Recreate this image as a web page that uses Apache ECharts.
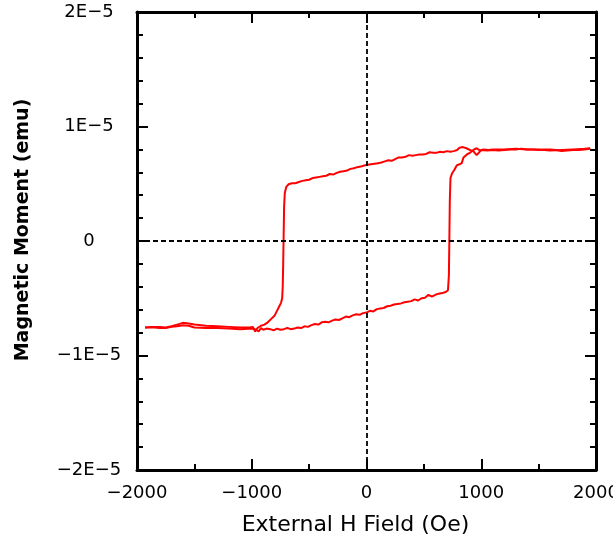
<!DOCTYPE html>
<html>
<head>
<meta charset="utf-8">
<script src="https://cdn.jsdelivr.net/npm/echarts@6/dist/echarts.min.js"></script>
<style>
  html, body { margin: 0; padding: 0; background: #fff; }
  #main { width: 613px; height: 540px; }
</style>
</head>
<body>
<div id="main"></div>
<script>
// H in Oe, M in units of 1E-6 emu
var hDown = [1950, 1900, 1850, 1800, 1750, 1700, 1650, 1600, 1550, 1500, 1450, 1400, 1350, 1300, 1250, 1200, 1150, 1100, 1050, 1000,
  960, 930, 900, 870, 840, 810, 790, 760, 730, 700, 670, 640, 610, 580, 550, 520, 490, 460, 430, 400, 370, 340, 310, 280, 250,
  220, 190, 160, 130, 100, 70, 40, 10, -20, -50, -80, -110, -140, -170, -200, -230, -260, -290, -320, -350, -380, -410, -440,
  -470, -500, -530, -560, -590, -620, -650, -680, -700, -712, -718, -722, -726, -730, -735, -745, -760, -780, -800, -830, -860,
  -890, -920, -950, -970, -990, -1020, -1100, -1200, -1300, -1400, -1500, -1550, -1600, -1650, -1700, -1750, -1800, -1870, -1930];
var mDown = [8.05, 8.0, 7.95, 7.95, 7.9, 7.85, 7.95, 8.0, 8.0, 7.95, 8.0, 8.0, 8.05, 8.0, 8.0, 7.95, 7.9, 7.95, 7.9, 7.95,
  7.5, 7.85, 7.95, 8.1, 8.2, 8.15, 7.95, 7.85, 7.8, 7.85, 7.75, 7.8, 7.7, 7.7, 7.75, 7.6, 7.55, 7.55, 7.5, 7.45, 7.5, 7.35, 7.3, 7.3, 7.15,
  7.0, 7.05, 6.95, 6.85, 6.8, 6.75, 6.7, 6.65, 6.6, 6.5, 6.45, 6.35, 6.3, 6.15, 6.1, 6.05, 5.95, 5.8, 5.85, 5.7, 5.65, 5.6, 5.55,
  5.5, 5.35, 5.3, 5.25, 5.15, 5.05, 5.05, 4.95, 4.7, 4.2, 3.0, 0.5, -2.0, -4.0, -5.0, -5.4, -5.7, -6.1, -6.5, -6.8, -7.1,
  -7.3, -7.4, -7.6, -7.9, -7.5, -7.55, -7.55, -7.5, -7.45, -7.4, -7.3, -7.2, -7.15, -7.3, -7.45, -7.55, -7.5, -7.5, -7.55];

var hUp = [-1930, -1850, -1800, -1750, -1700, -1650, -1600, -1550, -1500, -1400, -1300, -1200, -1100, -1000, -960, -940, -920,
  -900, -870, -840, -810, -780, -750, -720, -690, -660, -630, -600, -570, -540, -510, -480, -450, -420, -390, -360, -330, -300,
  -270, -240, -210, -180, -150, -120, -90, -60, -30, 0, 30, 60, 90, 120, 150, 180, 210, 240, 270, 300, 330, 360, 390, 420, 450,
  480, 510, 540, 570, 600, 630, 660, 690, 710, 718, 722, 726, 732, 745, 765, 786, 810, 830, 845, 858, 880, 902, 931, 960, 990,
  1020, 1060, 1100, 1200, 1300, 1400, 1500, 1600, 1700, 1800, 1900, 1950];
var mUp = [-7.55, -7.55, -7.6, -7.6, -7.5, -7.45, -7.35, -7.4, -7.55, -7.6, -7.6, -7.65, -7.7, -7.65, -7.75, -7.9, -7.6,
  -7.75, -7.65, -7.7, -7.8, -7.65, -7.75, -7.7, -7.6, -7.7, -7.65, -7.55, -7.6, -7.45, -7.5, -7.35, -7.25, -7.3, -7.1, -7.05, -7.1, -6.95,
  -6.85, -6.9, -6.75, -6.6, -6.65, -6.5, -6.4, -6.45, -6.3, -6.25, -6.1, -6.15, -5.95, -5.9, -5.85, -5.7, -5.65, -5.55, -5.5, -5.45, -5.35, -5.3, -5.25, -5.1, -5.2,
  -5.0, -4.95, -4.7, -4.85, -4.7, -4.6, -4.55, -4.45, -4.3, -3.0, 0, 3.5, 5.5, 5.9, 6.2, 6.6, 6.7, 6.8, 7.3, 7.4, 7.6, 7.7, 7.95, 8.1, 7.9,
  8.0, 7.95, 8.0, 8.0, 8.05, 8.0, 8.0, 7.9, 7.95, 8.0, 8.05, 8.1];

var xTicks = [-2000, -1000, 0, 1000, 2000];
var xTickText = ['\u22122000', '\u22121000', '0', '1000', '2000'];
var yTicks = [-20, -10, 0, 10, 20];
var yTickText = ['\u22122E\u22125', '\u22121E\u22125', '0', '1E\u22125', '2E\u22125'];

function pairs(h, m) {
  return h.map(function (v, i) { return [v, m[i]]; });
}
function pick(ticks, text) {
  return function (v) {
    for (var i = 0; i < ticks.length; i++) {
      if (Math.abs(ticks[i] - v) < 1e-6) return text[i];
    }
    return '';
  };
}

var font = '"DejaVu Sans", sans-serif';
var axisLine = { show: true, onZero: false, lineStyle: { color: '#000', width: 3 } };
var tick = { show: true, inside: true, length: 11, lineStyle: { color: '#000', width: 2 } };
var minor = { show: true, length: 6, lineStyle: { color: '#000', width: 2 } };

var myChart = echarts.init(document.getElementById('main'));
myChart.setOption({
  animation: false,
  backgroundColor: '#fff',
  grid: { left: 137, right: 17, top: 12, bottom: 70, containLabel: false, outerBoundsMode: 'none' },
  xAxis: [{
    type: 'value', min: -2000, max: 2000, interval: 1000, position: 'bottom',
    axisLine: axisLine, axisTick: tick,
    minorTick: Object.assign({ splitNumber: 2 }, minor),
    splitLine: { show: false },
    axisLabel: { formatter: pick(xTicks, xTickText), fontSize: 18, color: '#000', fontFamily: font, margin: 14 },
    name: 'External H Field (Oe)', nameLocation: 'middle', nameGap: 44,
    nameTextStyle: { fontSize: 22, color: '#000', fontFamily: font, padding: [0, 22, 0, 0] }
  }, {
    type: 'value', min: -2000, max: 2000, interval: 1000, position: 'top',
    axisLine: axisLine, axisTick: tick,
    minorTick: Object.assign({ splitNumber: 2 }, minor),
    splitLine: { show: false }, axisLabel: { show: false }
  }],
  yAxis: [{
    type: 'value', min: -20, max: 20, interval: 10, position: 'left',
    axisLine: axisLine, axisTick: tick,
    minorTick: Object.assign({ splitNumber: 5 }, minor),
    splitLine: { show: false },
    axisLabel: { formatter: pick(yTicks, yTickText), fontSize: 18, color: '#000', fontFamily: font, align: 'center', margin: 48 },
    name: 'Magnetic Moment (emu)', nameLocation: 'middle', nameGap: 104,
    nameTextStyle: { fontSize: 19, fontWeight: 'bold', color: '#000', fontFamily: font, padding: [0, 0, 0, 22] }
  }, {
    type: 'value', min: -20, max: 20, interval: 10, position: 'right',
    axisLine: axisLine, axisTick: tick,
    minorTick: Object.assign({ splitNumber: 5 }, minor),
    splitLine: { show: false }, axisLabel: { show: false }
  }],
  series: [{
    type: 'line', data: pairs(hDown, mDown), showSymbol: false, symbol: 'none',
    lineStyle: { color: '#ff0000', width: 2 },
    markLine: {
      silent: true, symbol: 'none', label: { show: false },
      lineStyle: { color: '#000', type: [5, 3], width: 1.8 },
      data: [{ xAxis: 0 }, { yAxis: 0 }]
    }
  }, {
    type: 'line', data: pairs(hUp, mUp), showSymbol: false, symbol: 'none',
    lineStyle: { color: '#ff0000', width: 2 }
  }]
});
</script>
</body>
</html>
